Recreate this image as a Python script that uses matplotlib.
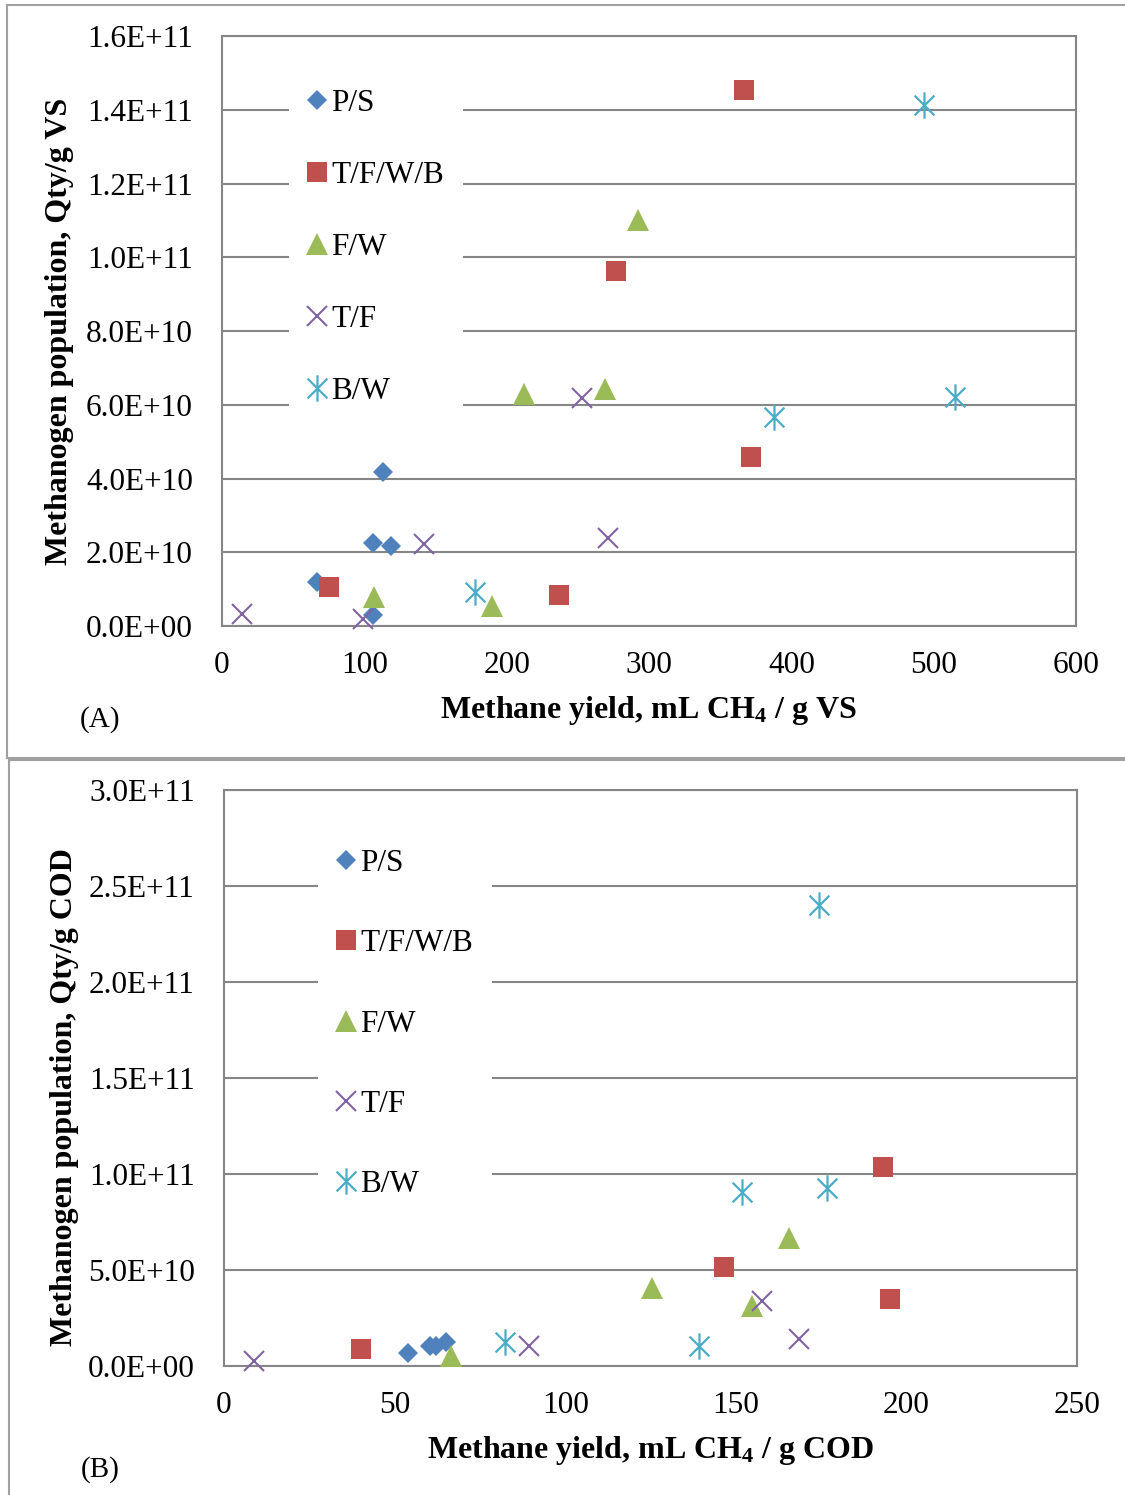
import matplotlib

matplotlib.use("Agg")
import matplotlib.pyplot as plt
from matplotlib.lines import Line2D
from matplotlib.path import Path
from matplotlib.ticker import FuncFormatter, MultipleLocator

plt.rcParams["font.family"] = ["Liberation Serif", "DejaVu Serif"]
plt.rcParams["mathtext.fontset"] = "custom"
plt.rcParams["mathtext.rm"] = "Liberation Serif"
plt.rcParams["mathtext.it"] = "Liberation Serif:italic"
plt.rcParams["mathtext.bf"] = "Liberation Serif:bold"

SERIES = ["P/S", "T/F/W/B", "F/W", "T/F", "B/W"]

# Panel A: methane yield (mL CH4/g VS) vs methanogen population (Qty/g VS)
a_ps_x = [67, 113, 106, 119, 106]
a_ps_y = [1.19e10, 4.18e10, 2.25e10, 2.17e10, 0.30e10]
a_tfwb_x = [367, 277, 372, 75, 237]
a_tfwb_y = [14.54e10, 9.63e10, 4.57e10, 1.06e10, 0.83e10]
a_fw_x = [292, 212, 269, 107, 190]
a_fw_y = [11.0e10, 6.29e10, 6.43e10, 0.79e10, 0.55e10]
a_tf_x = [14, 99, 142, 271, 253]
a_tf_y = [0.32e10, 0.19e10, 2.23e10, 2.40e10, 6.18e10]
a_bw_x = [493, 515, 388, 178]
a_bw_y = [14.13e10, 6.22e10, 5.68e10, 0.93e10]

# Panel B: methane yield (mL CH4/g COD) vs methanogen population (Qty/g COD)
b_ps_x = [54, 60.4, 62.2, 65]
b_ps_y = [0.69e10, 1.04e10, 1.06e10, 1.27e10]
b_tfwb_x = [40.2, 193.2, 146.6, 195.2]
b_tfwb_y = [0.90e10, 10.34e10, 5.17e10, 3.47e10]
b_fw_x = [66.4, 125.5, 165.7, 154.7]
b_fw_y = [0.50e10, 4.05e10, 6.65e10, 3.13e10]
b_tf_x = [8.9, 89.5, 157.8, 168.6]
b_tf_y = [0.28e10, 1.04e10, 3.40e10, 1.42e10]
b_bw_x = [82.5, 139.3, 151.7, 176.7, 174.4]
b_bw_y = [1.27e10, 1.06e10, 9.08e10, 9.29e10, 24.0e10]

# Excel-style asterisk: vertical bar plus an x
ASTERISK = Path(
    [(0, -1), (0, 1), (-0.75, -0.75), (0.75, 0.75), (-0.75, 0.75), (0.75, -0.75)],
    [Path.MOVETO, Path.LINETO] * 3,
)

STYLES = {
    "P/S": dict(marker="D", color="#4F81BD", ms=10.5, mew=0),
    "T/F/W/B": dict(marker="s", color="#C0504D", ms=14.5, mew=0),
    "F/W": dict(marker="^", color="#9BBB59", ms=15.5, mew=0),
    "T/F": dict(marker="x", color="#8064A2", ms=14, mew=1.5),
    "B/W": dict(marker=ASTERISK, color="#4BACC6", ms=19, mew=1.6),
}

GRAY = "#868686"
W, H = 1125, 1495
fig = plt.figure(figsize=(W / 100, H / 100), dpi=100)


def px_rect(left, top, right, bottom):
    return [left / W, 1 - bottom / H, (right - left) / W, (bottom - top) / H]


def sci(v, _pos):
    return f"{v:.1E}"


def draw_panel(rect, data, xmax, xstep, ymax, ystep, xlabel, ylabel, ylabel_pos, leg_anchor, leg_spacing):
    ax = fig.add_axes(rect)
    for name, (xs, ys) in zip(SERIES, data):
        st = STYLES[name]
        filled = st["mew"] == 0
        ax.plot(
            xs, ys, linestyle="none", marker=st["marker"], ms=st["ms"],
            mfc=st["color"] if filled else "none", mec=st["color"],
            mew=st["mew"], label=name, zorder=3, clip_on=False,
        )
    ax.set_xlim(0, xmax)
    ax.set_ylim(0, ymax)
    ax.xaxis.set_major_locator(MultipleLocator(xstep))
    ax.yaxis.set_major_locator(MultipleLocator(ystep))
    ax.yaxis.set_major_formatter(FuncFormatter(sci))
    ax.tick_params(length=0, labelsize=22.5, colors="black")
    ax.tick_params(axis="y", pad=21)
    ax.tick_params(axis="x", pad=18)
    ax.yaxis.grid(True, color=GRAY, lw=1.5)
    ax.set_axisbelow(True)
    for sp in ax.spines.values():
        sp.set_color(GRAY)
        sp.set_linewidth(1.5)
    ax.set_xlabel(xlabel, fontsize=23, fontweight="bold", labelpad=10)
    fig.text(ylabel_pos[0] / W, 1 - ylabel_pos[1] / H, ylabel, rotation=90,
             fontsize=23, fontweight="bold", ha="center", va="center")
    leg = ax.legend(
        loc="upper left", bbox_to_anchor=leg_anchor, fontsize=22.5, frameon=True,
        numpoints=1, handlelength=0.6, handletextpad=0.15, labelspacing=leg_spacing,
        borderpad=0.6, borderaxespad=0, fancybox=False,
    )
    leg.get_frame().set_facecolor("white")
    leg.get_frame().set_edgecolor("none")
    leg.get_frame().set_alpha(1)
    return ax


draw_panel(
    px_rect(222, 36, 1076, 626),
    [(a_ps_x, a_ps_y), (a_tfwb_x, a_tfwb_y), (a_fw_x, a_fw_y), (a_tf_x, a_tf_y), (a_bw_x, a_bw_y)],
    600, 100, 1.6e11, 2e10,
    r"Methane yield, mL CH$_\mathbf{4}$ / g VS",
    "Methanogen population, Qty/g VS", (60, 331),
    ((289 - 222) / 854, 1 - (70 - 36) / 590), 1.38,
)
draw_panel(
    px_rect(224, 790, 1077, 1366),
    [(b_ps_x, b_ps_y), (b_tfwb_x, b_tfwb_y), (b_fw_x, b_fw_y), (b_tf_x, b_tf_y), (b_bw_x, b_bw_y)],
    250, 50, 3.0e11, 5e10,
    r"Methane yield, mL CH$_\mathbf{4}$ / g COD",
    "Methanogen population, Qty/g COD", (65, 1097),
    ((318 - 224) / 853, 1 - (830 - 790) / 576), 1.645,
)

fig.text(100 / W, 1 - 720 / H, "(A)", fontsize=21, ha="center", va="center")
fig.text(100 / W, 1 - 1470 / H, "(B)", fontsize=21, ha="center", va="center")

# panel frames
BORDER = "#A0A0A0"
for xs, ys in [
    ([7, 7], [5, 758]), ([7, W], [5, 5]), ([7, W], [758, 758]),
    ([9, 9], [760, H]), ([9, W], [760, 760]),
]:
    fig.add_artist(Line2D([x / W for x in xs], [1 - y / H for y in ys], color=BORDER, lw=1.5))

fig.savefig("out.png", dpi=100)
